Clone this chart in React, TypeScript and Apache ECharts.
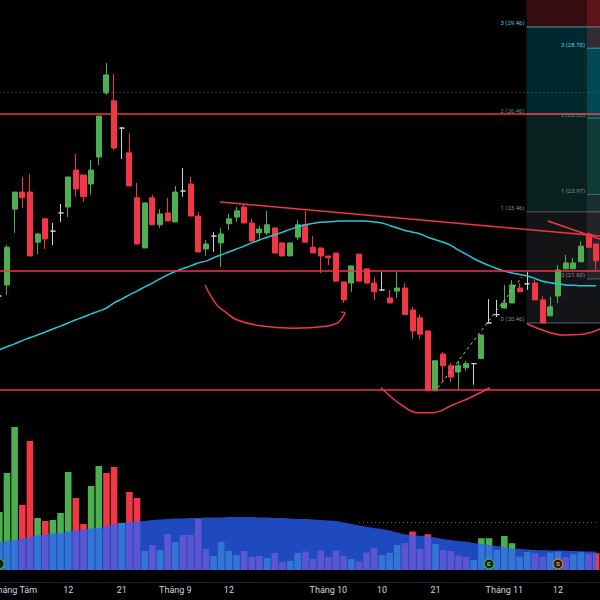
import React, { useEffect, useRef } from 'react';
import * as echarts from 'echarts';

// ---- price data (one entry per trading day, index k) ----
const open = [21.15, 21.44, 23.54, 24.04, 24.04, 22.60, 23.26, 22.91, 23.43, 23.60, 24.70, 24.55, 24.28, 25.10, 27.16, 26.90, 26.01, 25.23, 23.87, 22.44, 23.87, 23.09, 23.43, 23.17, 24.07, 24.28, 23.34, 22.41, 22.77, 22.58, 23.12, 23.31, 23.60, 23.14, 22.86, 22.86, 23.00, 22.58, 22.22, 22.74, 23.09, 22.46, 22.44, 22.22, 22.30, 21.52, 21.49, 22.27, 21.87, 21.49, 21.31, 21.10, 21.28, 21.36, 20.79, 20.59, 20.26, 18.82, 19.69, 19.41, 19.26, 19.36, 19.46, 19.58, 20.46, 20.67, 20.84, 20.97, 21.36, 21.47, 21.49, 21.05, 20.64, 21.15, 21.87, 21.87, 22.06, 22.83, 22.55];
const close = [21.15, 22.46, 24.04, 23.87, 22.22, 22.83, 22.69, 22.91, 23.43, 24.49, 24.13, 23.90, 24.70, 26.40, 27.77, 25.38, 26.01, 24.22, 22.55, 23.72, 23.09, 23.40, 23.20, 24.04, 24.07, 23.34, 22.33, 22.55, 22.77, 22.83, 23.26, 23.49, 23.14, 22.63, 22.97, 23.09, 22.30, 22.22, 22.58, 23.09, 22.60, 22.30, 22.22, 22.17, 21.54, 21.05, 21.95, 21.54, 21.49, 21.26, 21.31, 20.97, 21.36, 20.67, 20.26, 20.18, 18.82, 19.53, 19.41, 19.14, 19.41, 19.46, 19.46, 20.16, 20.46, 20.67, 20.97, 21.44, 21.26, 21.47, 21.05, 20.46, 20.87, 21.84, 22.03, 22.03, 22.49, 22.46, 22.09];
const low = [21.05, 21.18, 22.86, 23.57, 22.22, 22.27, 22.41, 22.52, 23.17, 23.31, 23.90, 23.75, 23.96, 24.85, 27.10, 25.32, 25.04, 24.22, 22.55, 22.44, 23.09, 23.00, 23.20, 23.17, 23.90, 23.34, 22.33, 22.22, 22.33, 21.92, 22.94, 23.17, 23.14, 22.63, 22.69, 22.80, 22.30, 22.22, 22.22, 22.66, 22.60, 22.30, 21.76, 21.97, 21.54, 20.97, 21.26, 21.54, 21.49, 21.05, 21.28, 20.97, 21.10, 20.67, 20.06, 20.06, 18.82, 18.82, 19.02, 19.02, 18.84, 19.29, 18.96, 19.58, 20.46, 20.61, 20.82, 20.97, 21.26, 21.31, 21.05, 20.46, 20.64, 20.97, 21.87, 21.87, 22.06, 22.46, 21.84];
const high = [21.25, 22.52, 24.04, 24.49, 24.58, 22.86, 23.29, 23.14, 23.69, 24.49, 25.20, 24.55, 25.01, 26.40, 28.18, 27.80, 26.05, 25.85, 24.31, 23.72, 23.96, 23.54, 23.87, 24.22, 24.76, 24.49, 23.46, 22.66, 22.88, 23.00, 23.40, 23.60, 23.69, 23.26, 23.06, 23.49, 23.00, 22.58, 22.58, 23.23, 23.49, 22.77, 22.44, 22.22, 22.30, 21.52, 21.95, 22.27, 21.87, 21.65, 21.78, 21.31, 21.78, 21.49, 20.87, 20.67, 20.26, 19.53, 19.74, 19.48, 19.53, 19.53, 19.46, 20.16, 21.07, 21.05, 21.44, 21.57, 21.49, 21.78, 21.57, 21.15, 21.13, 21.97, 22.25, 22.17, 22.63, 22.88, 22.55];
const priceMA = [19.80, 19.87, 19.94, 20.02, 20.09, 20.16, 20.23, 20.31, 20.38, 20.46, 20.54, 20.61, 20.69, 20.76, 20.84, 20.97, 21.07, 21.18, 21.28, 21.39, 21.49, 21.60, 21.71, 21.80, 21.88, 21.95, 22.03, 22.08, 22.17, 22.25, 22.33, 22.41, 22.49, 22.58, 22.66, 22.74, 22.81, 22.88, 22.96, 23.03, 23.09, 23.13, 23.16, 23.17, 23.19, 23.20, 23.20, 23.20, 23.19, 23.17, 23.14, 23.07, 23.00, 22.93, 22.88, 22.83, 22.74, 22.67, 22.60, 22.51, 22.38, 22.27, 22.15, 22.05, 21.96, 21.88, 21.81, 21.76, 21.72, 21.68, 21.61, 21.54, 21.50, 21.47, 21.44, 21.43, 21.42, 21.42, 21.42];

// ---- volume (millions) ----
const volume = [2.9, 4.85, 7.15, 3.25, 6.45, 2.6, 2.45, 2.5, 2.85, 4.9, 3.6, 2.3, 4.2, 5.2, 4.85, 5.15, 2.35, 3.9, 3.6, 0.95, 1.25, 1.0, 1.8, 1.4, 1.75, 1.75, 2.55, 1.05, 0.7, 1.4, 0.95, 0.75, 0.95, 0.65, 0.7, 0.6, 0.85, 0.4, 0.45, 0.85, 0.92, 0.55, 0.97, 0.65, 0.97, 0.70, 0.55, 0.42, 0.87, 1.10, 0.75, 0.85, 1.25, 1.35, 1.92, 1.05, 1.79, 1.30, 1.00, 0.95, 0.72, 0.65, 0.50, 1.59, 1.59, 1.00, 1.70, 1.34, 0.67, 0.90, 0.84, 0.67, 0.87, 0.92, 0.65, 0.80, 0.89, 0.80, 0.84];
const volumeUp = [1, 1, 1, 0, 0, 1, 0, 1, 1, 1, 0, 0, 1, 1, 0, 0, 1, 0, 0, 1, 0, 1, 0, 1, 0, 0, 0, 0, 1, 1, 1, 1, 0, 0, 0, 1, 0, 0, 1, 1, 0, 0, 0, 0, 0, 0, 1, 0, 0, 0, 1, 1, 1, 0, 0, 0, 0, 1, 0, 0, 0, 0, 1, 1, 1, 1, 1, 1, 1, 1, 0, 0, 1, 1, 0, 1, 1, 0, 0];
const volumeMA = [1.40, 1.45, 1.50, 1.575, 1.65, 1.725, 1.775, 1.825, 1.85, 1.925, 1.975, 2.025, 2.075, 2.10, 2.20, 2.275, 2.35, 2.40, 2.425, 2.45, 2.50, 2.525, 2.55, 2.575, 2.575, 2.60, 2.60, 2.625, 2.625, 2.625, 2.65, 2.65, 2.65, 2.65, 2.625, 2.625, 2.60, 2.60, 2.575, 2.55, 2.55, 2.525, 2.50, 2.475, 2.45, 2.375, 2.30, 2.225, 2.165, 2.10, 2.05, 1.975, 1.875, 1.785, 1.75, 1.71, 1.68, 1.625, 1.55, 1.50, 1.45, 1.415, 1.35, 1.30, 1.25, 1.20, 1.15, 1.075, 1.05, 1.025, 1.00, 0.99, 0.98, 0.97, 0.965, 0.95, 0.94, 0.925, 0.915];

// ---- axis tick labels: [day index, text] ----
const tickLabels: [number, string][] = [
  [2, 'Tháng Tám'], [9, '12'], [16, '21'], [23, 'Tháng 9'], [30, '12'],
  [43, 'Tháng 10'], [50, '10'], [57, '21'], [66, 'Tháng 11'], [73, '12'],
];

// ---- drawings (day index, price) ----
const levelLines = [26.46, 21.81, 18.84];
const dottedLevel = 27.19;
const trendMain = [[28.84, 23.75], [78.5, 22.77]];
const trendShort = [[71.7, 23.2], [78.5, 22.69]];
const curveA = [[26.88, 21.44], [28.41, 20.92], [29.49, 20.75], [31.02, 20.54], [34.07, 20.39], [38.38, 20.33], [42.78, 20.38], [44.26, 20.47], [44.91, 20.62], [45.17, 20.72], [44.65, 20.74]];
const curveB = [[49.88, 18.89], [51.05, 18.7], [52.36, 18.52], [54.58, 18.32], [56.67, 18.32], [59.29, 18.5], [61.51, 18.66], [64.12, 18.89]];
const curveC = [[68.96, 20.44], [71.31, 20.26], [73.66, 20.16], [76.28, 20.18], [78.5, 20.31]];
const dashPath = [[57.33, 18.89], [68.3, 21.65]];
const fibStarts = [68.9, 76.8];
const fib1Levels = [20.46, 23.46, 26.46, 29.46, 32.46];
const fib2Levels = [21.6, 23.97, 26.33, 28.7, 31.07];
const volumeDotted = 2.4;
const eventMarks: [number, string][] = [[0, ''], [64, 'E'], [73, 'S']];

const GREEN = '#4caf50';
const RED = '#f23645';
const DOJI = '#d1d4dc';

function buildOption() {
  const cats = open.map((_, i) => String(i));
  const labelMap: Record<number, string> = {};
  tickLabels.forEach(([i, t]) => (labelMap[i] = t));

  const candles = open.map((o, i) => {
    const v = [o, close[i], low[i], high[i]];
    if (o === close[i]) {
      return { value: v, itemStyle: { color: DOJI, color0: DOJI, borderColor: DOJI, borderColor0: DOJI } };
    }
    return { value: v };
  });

  const volBars = volume.map((v, i) => ({ value: v, itemStyle: { color: volumeUp[i] ? GREEN : RED } }));

  const fibData: number[][] = [];
  [fib1Levels, fib2Levels].forEach((lv, f) => {
    for (let i = 0; i < 4; i++) fibData.push([fibStarts[f], lv[i], lv[i + 1], i]);
  });
  const fibFill = ['rgba(120,123,134,0.16)', 'rgba(38,166,154,0.2)', 'rgba(0,188,212,0.22)', 'rgba(242,54,69,0.22)'];
  const fibLine = ['#5d606b', '#5d606b', '#1f8a78', '#3a9fae'];
  const fibText = ['#8a8d96', '#8a8d96', '#26a69a', '#4dd0e1'];

  const drawLine = (data: number[][], extra: any = {}) => ({
    type: 'line', xAxisIndex: 2, yAxisIndex: 0, data, showSymbol: false, symbol: 'none', silent: true,
    lineStyle: { color: RED, width: 1.5 }, z: 4, ...extra,
  });

  return {
    animation: false,
    backgroundColor: '#000000',
    grid: [
      { left: -4.5, right: 0, top: 0, height: 420, outerBoundsMode: 'none', containLabel: false },
      { left: -4.5, right: 0, top: 420, height: 150, outerBoundsMode: 'none', containLabel: false },
    ],
    xAxis: [
      { type: 'category', gridIndex: 0, data: cats, show: false, boundaryGap: true },
      {
        type: 'category', gridIndex: 1, data: cats, boundaryGap: true,
        axisLine: { show: false }, axisTick: { show: false }, splitLine: { show: false },
        axisLabel: {
          interval: 0, margin: 15, color: '#d1d4dc', fontSize: 9, fontFamily: 'Roboto',
          formatter: (_v: string, idx: number) => labelMap[idx] ?? '',
        },
      },
      { type: 'value', gridIndex: 0, min: -0.5, max: 78.5, show: false, splitLine: { show: false } },
    ],
    yAxis: [
      { type: 'log', logBase: 10, gridIndex: 0, min: 18.155, max: 30.455, show: false, splitLine: { show: false } },
      { type: 'value', gridIndex: 1, min: 0, max: 7.5, show: false, splitLine: { show: false } },
    ],
    graphic: [
      { type: 'rect', shape: { x: 0, y: 582, width: 600, height: 1 }, style: { fill: '#1a1d26' }, silent: true },
    ],
    series: [
      {
        type: 'custom', coordinateSystem: 'cartesian2d', xAxisIndex: 2, yAxisIndex: 0, z: 1, silent: true,
        data: fibData,
        renderItem: (params: any, api: any) => {
          const xs = api.value(0);
          const lo = api.value(1);
          const hi = api.value(2);
          const lvl = api.value(3);
          const p0 = api.coord([xs, lo]);
          const p1 = api.coord([xs, hi]);
          const right = params.coordSys.x + params.coordSys.width;
          return {
            type: 'group',
            children: [
              { type: 'rect', shape: { x: p0[0], y: p1[1], width: right - p0[0], height: p0[1] - p1[1] }, style: { fill: fibFill[lvl] } },
              { type: 'line', shape: { x1: p0[0], y1: p0[1], x2: right, y2: p0[1] }, style: { stroke: fibLine[lvl], lineWidth: 1 } },
              {
                type: 'text', x: p0[0] - 2, y: p0[1] - 1,
                style: { text: `${lvl} (${lo.toFixed(2)})`, fill: fibText[lvl], fontSize: 6, fontFamily: 'Roboto', align: 'right', verticalAlign: 'bottom' },
              },
            ],
          };
        },
      },
      {
        type: 'candlestick', xAxisIndex: 0, yAxisIndex: 0, data: candles, barWidth: '72%', z: 3,
        itemStyle: { color: GREEN, color0: RED, borderColor: GREEN, borderColor0: RED, borderWidth: 1 },
        markLine: {
          silent: true, symbol: ['none', 'none'], label: { show: false }, animation: false,
          data: [
            ...levelLines.map((v) => ({ yAxis: v, lineStyle: { color: RED, width: 1.5, type: 'solid' } })),
            { yAxis: dottedLevel, lineStyle: { color: '#5d606b', width: 1, type: [1, 3] } },
          ],
        },
      },
      {
        type: 'line', xAxisIndex: 0, yAxisIndex: 0, data: priceMA, smooth: true, showSymbol: false, symbol: 'none', silent: true,
        lineStyle: { color: '#26c6da', width: 1.5 }, z: 4,
      },
      drawLine(trendMain),
      drawLine(trendShort),
      drawLine(curveA, { smooth: 0.4 }),
      drawLine(curveB, { smooth: 0.4 }),
      drawLine(curveC, { smooth: 0.4 }),
      drawLine(dashPath, { lineStyle: { color: '#b2b5be', width: 1, type: [3, 3] } }),
      {
        type: 'bar', xAxisIndex: 1, yAxisIndex: 1, data: volBars, barWidth: '86%', silent: true, z: 2,
        markLine: {
          silent: true, symbol: ['none', 'none'], label: { show: false },
          data: [[{ coord: [47, volumeDotted] }, { coord: [78, volumeDotted] }]],
          lineStyle: { color: '#5d606b', width: 1, type: [1, 3] },
        },
      },
      {
        type: 'line', xAxisIndex: 1, yAxisIndex: 1, data: volumeMA, smooth: true, showSymbol: false, symbol: 'none', silent: true,
        lineStyle: { width: 0 }, areaStyle: { color: 'rgba(41,98,255,0.75)', opacity: 1 }, z: 3,
        markPoint: {
          silent: true,
          data: eventMarks.map(([k, t], i) => ({
            coord: [k, 0.3], symbol: 'circle', symbolSize: 10,
            itemStyle: {
              color: i === 2 ? '#2a1c0e' : '#0d2412',
              borderColor: i === 2 ? '#c8873a' : GREEN,
              borderWidth: 1.2,
            },
            label: { show: true, position: 'inside', formatter: t, color: i === 2 ? '#e0a060' : '#7fd082', fontSize: 6, fontWeight: 'bold' },
          })),
        },
      },
    ],
  };
}

export default function App() {
  const ref = useRef<HTMLDivElement>(null);
  useEffect(() => {
    if (!ref.current) return;
    const chart = echarts.init(ref.current, undefined, { renderer: 'svg' });
    chart.setOption(buildOption() as any);
    return () => chart.dispose();
  }, []);
  return (
    <div
      ref={ref}
      style={{ position: 'fixed', left: 0, top: 0, width: 600, height: 600, background: '#000' }}
    />
  );
}
